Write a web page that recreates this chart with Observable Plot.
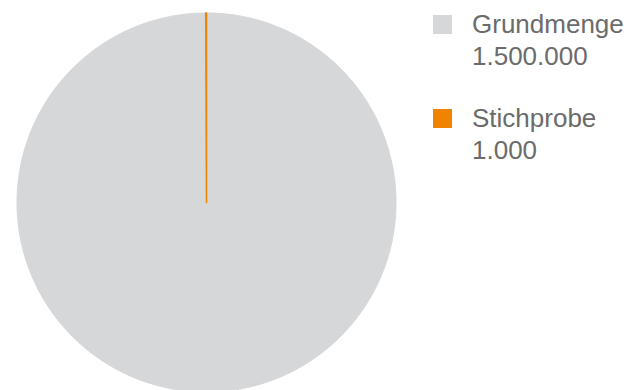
<!DOCTYPE html>
<html>
<head>
<meta charset="utf-8">
<script src="https://cdn.jsdelivr.net/npm/d3@7"></script>
<script src="https://cdn.jsdelivr.net/npm/@observablehq/plot@0.6"></script>
<style>
  html, body { margin: 0; padding: 0; background: #fff; overflow: hidden; }
  #wrap { position: relative; width: 630px; height: 390px; }
  #chart svg { display: block; }
  .legend { position: absolute; left: 433px; font-family: "Liberation Sans", Arial, sans-serif; font-size: 26px; line-height: 32px; color: #6b6b6b; }
  .legend .sw { position: absolute; left: 0; width: 19px; height: 19px; }
  .legend .txt { position: absolute; left: 39px; white-space: nowrap; }
</style>
</head>
<body>
<div id="wrap">
  <div id="chart"></div>
  <div id="legend"></div>
</div>
<script>
const categories = ["Grundmenge", "Stichprobe"];
const values = [1500000, 1000];
const valueLabels = ["1.500.000", "1.000"];
const colors = ["#d5d7d9", "#f08300"];

// Build wedge outlines (unit circle, angle 0 at 12 o'clock, clockwise)
const arcs = d3.pie().sort(null)(values);
const wedgePoints = [];
arcs.forEach((a, i) => {
  const cat = categories[i];
  wedgePoints.push({cat, x: 0, y: 0});
  const span = a.endAngle - a.startAngle;
  const n = Math.max(2, Math.ceil(span / (Math.PI / 180)));
  for (let k = 0; k <= n; k++) {
    const t = a.startAngle + span * k / n;
    wedgePoints.push({cat, x: Math.sin(t), y: Math.cos(t)});
  }
});

const chart = Plot.plot({
  width: 630,
  height: 390,
  marginLeft: 16.5,
  marginRight: 234.5,
  marginTop: 12.5,
  marginBottom: -1.5,
  x: {domain: [-1, 1], axis: null},
  y: {domain: [-1, 1], axis: null},
  color: {domain: categories, range: colors},
  marks: [
    Plot.line(wedgePoints, {
      x: "x", y: "y", z: "cat",
      fill: "cat", stroke: "cat",
      strokeWidth: d => 1,
      curve: "linear-closed"
    })
  ].map(m => m),
});
// orange wedge stroke slightly heavier for visibility
document.getElementById("chart").appendChild(chart);
chart.querySelectorAll("path").forEach(p => {
  if ((p.getAttribute("stroke") || "").toLowerCase() === colors[1]) p.setAttribute("stroke-width", "1.5");
});

const legend = document.getElementById("legend");
const tops = [15, 109];
categories.forEach((c, i) => {
  const item = document.createElement("div");
  item.className = "legend";
  item.style.top = tops[i] + "px";
  const sw = document.createElement("div");
  sw.className = "sw";
  sw.style.background = colors[i];
  const txt = document.createElement("div");
  txt.className = "txt";
  txt.style.top = "-7px";
  txt.innerHTML = "";
  const l1 = document.createElement("div"); l1.textContent = c;
  const l2 = document.createElement("div"); l2.textContent = valueLabels[i];
  txt.appendChild(l1); txt.appendChild(l2);
  item.appendChild(sw); item.appendChild(txt);
  legend.appendChild(item);
});
</script>
</body>
</html>
